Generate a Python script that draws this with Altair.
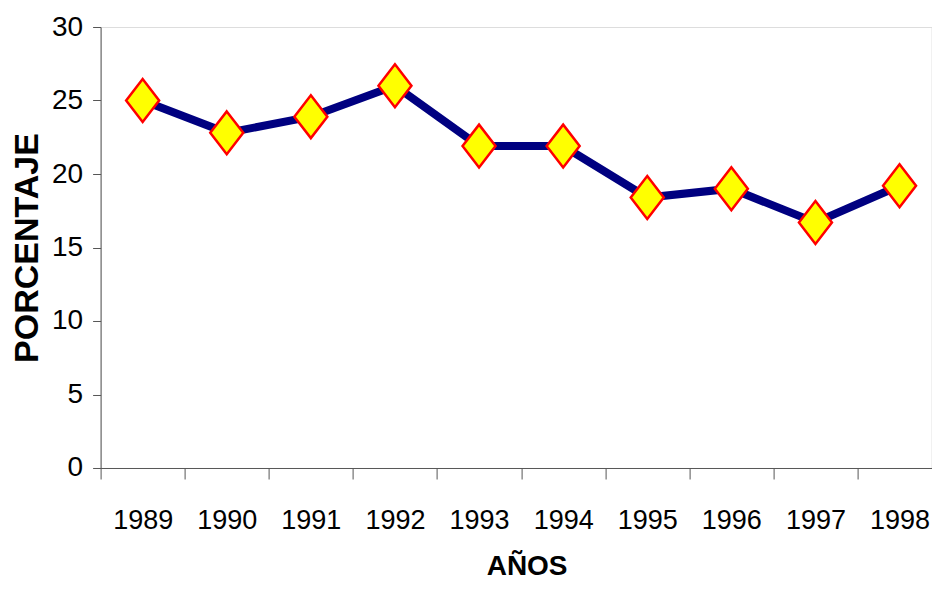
import altair as alt
import pandas as pd

years = ["1989", "1990", "1991", "1992", "1993", "1994", "1995", "1996", "1997", "1998"]
values = [25.0, 22.8, 23.9, 26.0, 21.9, 21.9, 18.4, 19.0, 16.7, 19.2]

df = pd.DataFrame({"year": years, "value": values})

font = "Liberation Sans, Arial, sans-serif"

x_enc = alt.X(
    "year:O",
    bandPosition=0.5,
    sort=years,
    scale=alt.Scale(type="band", range=[0, 841], paddingInner=0, paddingOuter=0),
    axis=alt.Axis(
        title="AÑOS",
        titleFont=font,
        titleFontSize=28,
        titleFontWeight="bold",
        titleColor="black",
        titleBaseline="alphabetic",
        titleX=426,
        titleY=107,
        labelFont=font,
        labelFontSize=27,
        labelColor="black",
        labelAngle=0,
        labelBaseline="alphabetic",
        labelPadding=50,
        tickBand="extent",
        tickSize=11,
        tickColor="#555555",
        domainColor="#555555",
        grid=False,
    ),
)

y_enc = alt.Y(
    "value:Q",
    scale=alt.Scale(domain=[0, 30], nice=False, zero=True),
    axis=alt.Axis(
        title="PORCENTAJE",
        titleFont=font,
        titleFontSize=34,
        titleFontWeight="bold",
        titleColor="black",
        titleAngle=270,
        titleBaseline="middle",
        titleX=-73,
        titleY=220.5,
        labelFont=font,
        labelFontSize=28,
        labelColor="black",
        labelPadding=10,
        values=[0, 5, 10, 15, 20, 25, 30],
        tickSize=8,
        tickColor="#555555",
        domainColor="#555555",
        grid=False,
    ),
)

base = alt.Chart(df).encode(x=x_enc, y=y_enc)

line = base.mark_line(color="#000080", strokeWidth=8)
points = base.mark_point(
    shape="M0,-1.3L1,0L0,1.3L-1,0Z",
    size=1089,
    filled=True,
    fill="#FFFF00",
    stroke="#FF0000",
    strokeWidth=2.5,
    opacity=1,
)

chart = (
    alt.layer(line, points)
    .properties(
        width=831,
        height=441,
        autosize=alt.AutoSizeParams(type="none"),
        padding={"left": 92.6, "top": 19, "right": 0, "bottom": 113},
    )
    .configure_view(stroke=None)
    .configure(background="white")
)

chart.save("out.html", embed_options={"renderer": "svg", "actions": False})
